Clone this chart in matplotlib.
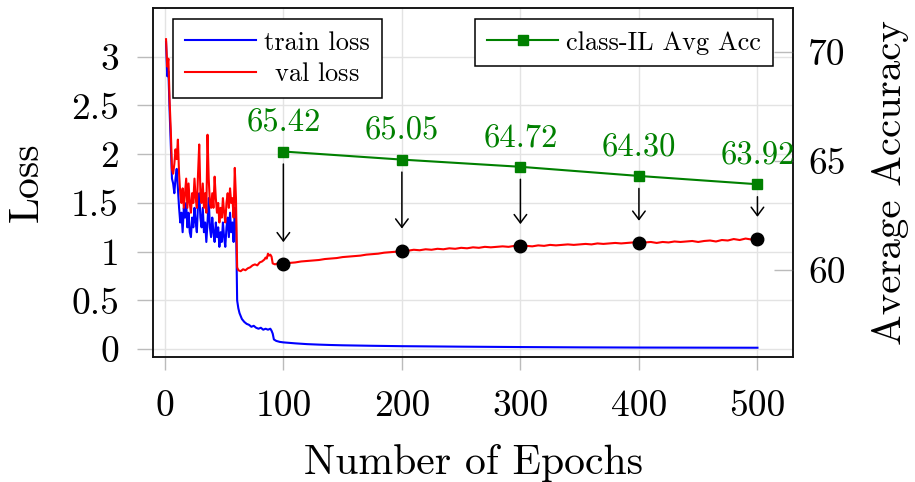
# Loss curves with class-IL average accuracy on a second axis
import matplotlib.pyplot as plt

plt.rcParams['font.family'] = 'cmr10'
plt.rcParams['mathtext.fontset'] = 'cm'
plt.rcParams['axes.formatter.use_mathtext'] = True

# --- data -------------------------------------------------------------
# first 60 epochs, one value per epoch
early_epochs = list(range(1, 61))
early_train = [3.15, 2.80, 2.85, 2.45, 2.10, 1.75, 1.70, 1.60, 1.75, 1.85,
               1.65, 1.45, 1.30, 1.40, 1.20, 1.45, 1.35, 1.50, 1.25, 1.40,
               1.20, 1.15, 1.35, 1.25, 1.45, 1.30, 1.20, 1.50, 1.60, 1.35,
               1.25, 1.45, 1.20, 1.30, 1.10, 1.30, 1.55, 1.25, 1.15, 1.35,
               1.20, 1.10, 1.30, 1.15, 1.25, 1.05, 1.20, 1.10, 1.30, 1.15,
               1.05, 1.25, 1.35, 1.15, 1.40, 1.20, 1.30, 1.10, 1.45, 1.35]
early_val = [3.18, 2.90, 2.98, 2.55, 2.25, 1.85, 1.80, 1.90, 2.05, 1.95,
             2.15, 1.80, 1.60, 1.50, 1.65, 1.45, 1.60, 1.75, 1.45, 1.70,
             1.50, 1.40, 1.60, 1.50, 1.75, 1.55, 1.45, 1.80, 2.10, 1.60,
             1.50, 1.70, 1.45, 1.60, 1.40, 2.20, 1.75, 1.50, 1.45, 1.60,
             1.45, 1.77, 1.55, 1.40, 1.50, 1.30, 1.45, 1.35, 1.55, 1.40,
             1.30, 1.50, 1.60, 1.45, 1.65, 1.50, 1.55, 1.35, 1.86, 1.55]

# after the learning-rate drop
train_epochs = [61, 62, 63, 64, 65, 67, 69, 71, 73, 75, 77, 79, 81, 83, 85,
                87, 89, 90, 91, 92, 94, 97, 100, 110, 120, 130, 140, 150,
                175, 200, 250, 300, 350, 400, 450, 500]
train_late = [0.50, 0.42, 0.37, 0.34, 0.31, 0.28, 0.26, 0.25, 0.23, 0.24,
              0.22, 0.21, 0.22, 0.20, 0.21, 0.20, 0.21, 0.19, 0.16, 0.10,
              0.085, 0.075, 0.07, 0.06, 0.052, 0.047, 0.043, 0.04,
              0.035, 0.031, 0.026, 0.022, 0.019, 0.017, 0.016, 0.015]

val_epochs = [61, 62, 64, 66, 68, 70, 72, 74, 76, 78, 80, 82, 84, 85, 86,
              87, 88, 89, 90, 91, 93, 95, 97, 99] + list(range(100, 501, 5))
val_late = [0.84, 0.81, 0.80, 0.82, 0.81, 0.83, 0.84, 0.86, 0.87, 0.86,
            0.89, 0.90, 0.92, 0.94, 0.93, 0.98, 0.96, 0.97, 0.95, 0.88,
            0.87, 0.88, 0.87, 0.89,
            0.875, 0.885, 0.89, 0.90, 0.905, 0.91, 0.915, 0.925, 0.93, 0.935,
            0.945, 0.95, 0.955, 0.96, 0.97, 0.975, 0.98, 0.99, 0.995, 1.00,
            1.01, 1.01, 1.02, 1.015, 1.025, 1.02, 1.03, 1.025, 1.035, 1.03,
            1.04, 1.035, 1.045, 1.04, 1.05, 1.045, 1.05, 1.055, 1.05, 1.06,
            1.055, 1.06, 1.055, 1.065, 1.06, 1.07, 1.065, 1.07, 1.075, 1.07,
            1.075, 1.08, 1.075, 1.085, 1.08, 1.085, 1.09, 1.085, 1.09, 1.095,
            1.09, 1.095, 1.10, 1.09, 1.10, 1.095, 1.105, 1.10, 1.105, 1.11,
            1.10, 1.11, 1.115, 1.105, 1.12, 1.115, 1.13, 1.12, 1.135, 1.125,
            1.13]

acc_epochs = [100, 200, 300, 400, 500]
acc_values = [65.42, 65.05, 64.72, 64.30, 63.92]
acc_labels = ['65.42', '65.05', '64.72', '64.30', '63.92']
marked_loss = [0.87, 1.01, 1.055, 1.09, 1.13]

x_ticks = [0, 100, 200, 300, 400, 500]
loss_ticks = [0, 0.5, 1, 1.5, 2, 2.5, 3]
loss_tick_labels = ['0', '0.5', '1', '1.5', '2', '2.5', '3']
acc_ticks = [60, 65, 70]

GREEN = '#008000'

fig = plt.figure(figsize=(9.15, 4.82), dpi=100)
ax1 = fig.add_axes([153 / 915, 125 / 482, 640 / 915, 349 / 482])

ax1.plot(early_epochs + train_epochs, early_train + train_late,
         color='#0000ff', lw=1.5, label='train loss', zorder=3)
ax1.plot(early_epochs + val_epochs, early_val + val_late,
         color='#ff0000', lw=1.5, label=r'$\;\,$val loss', zorder=3)

ax1.set_xlim(-10, 530)
ax1.set_ylim(-0.08, 3.5)
ax1.set_xticks(x_ticks)
ax1.set_xticklabels([str(t) for t in x_ticks])
ax1.set_yticks(loss_ticks)
ax1.set_yticklabels(loss_tick_labels)
ax1.grid(True, color='#e3e3e3', lw=1.0)
ax1.set_axisbelow(True)
ax1.tick_params(axis='y', direction='out', length=11.5, color='#bbbbbb',
                width=1, pad=13, labelsize=27)
ax1.tick_params(axis='x', direction='out', length=9.5, color='#bbbbbb',
                width=1, pad=14, labelsize=27)
ax1.set_xlabel('Number of Epochs', fontsize=30, labelpad=15)
ax1.set_ylabel('Loss', fontsize=30, labelpad=18)
for s in ax1.spines.values():
    s.set_linewidth(1.1)
    s.set_color('#111111')

leg1 = ax1.legend(loc='upper left', bbox_to_anchor=(20 / 640, 1 - 11 / 349),
                  borderaxespad=0, fontsize=19, frameon=True, fancybox=False,
                  edgecolor='black', framealpha=1, handlelength=2.7,
                  handletextpad=0.3, labelspacing=0.3, borderpad=0.45)
leg1.get_frame().set_linewidth(1.1)

# accuracy on the right axis
ax2 = ax1.twinx()
ax2.plot(acc_epochs, acc_values, color=GREEN, lw=1.5, marker='s',
         markersize=7.5, label='class-IL Avg Acc', zorder=4)
ax2.set_ylim(56, 72)
ax2.set_yticks(acc_ticks)
ax2.set_yticklabels([str(t) for t in acc_ticks])
ax2.tick_params(axis='y', direction='in', length=14, color='#bbbbbb',
                width=1, pad=11, labelsize=27)
ax2.set_ylabel('Average Accuracy', fontsize=29.5, labelpad=19)
for s in ax2.spines.values():
    s.set_linewidth(1.1)
    s.set_color('#111111')

for e, a, t in zip(acc_epochs, acc_values, acc_labels):
    ax2.annotate(t, (e, a), xytext=(0, 10), textcoords='offset points',
                 ha='center', va='bottom', color=GREEN, fontsize=23.5)

# markers on the validation curve with arrows from the accuracy points
ax2.plot(acc_epochs, marked_loss, 'o', color='black', markersize=9,
         transform=ax1.transData, zorder=5)
for e, a, l in zip(acc_epochs, acc_values, marked_loss):
    ax2.annotate('', xy=(e, l), xycoords=ax1.transData,
                 xytext=(e, a), textcoords=ax2.transData,
                 arrowprops=dict(arrowstyle='->,head_length=0.6,head_width=0.45',
                                 color='black', lw=1.1, shrinkA=9, shrinkB=16,
                                 mutation_scale=10))

leg2 = ax2.legend(loc='upper right', bbox_to_anchor=(1 - 20 / 640, 1 - 11 / 349),
                  borderaxespad=0, fontsize=19, frameon=True, fancybox=False,
                  edgecolor='black', framealpha=1, handlelength=2.7,
                  handletextpad=0.3, borderpad=0.45)
leg2.get_frame().set_linewidth(1.1)

fig.savefig('out.png', dpi=100)
